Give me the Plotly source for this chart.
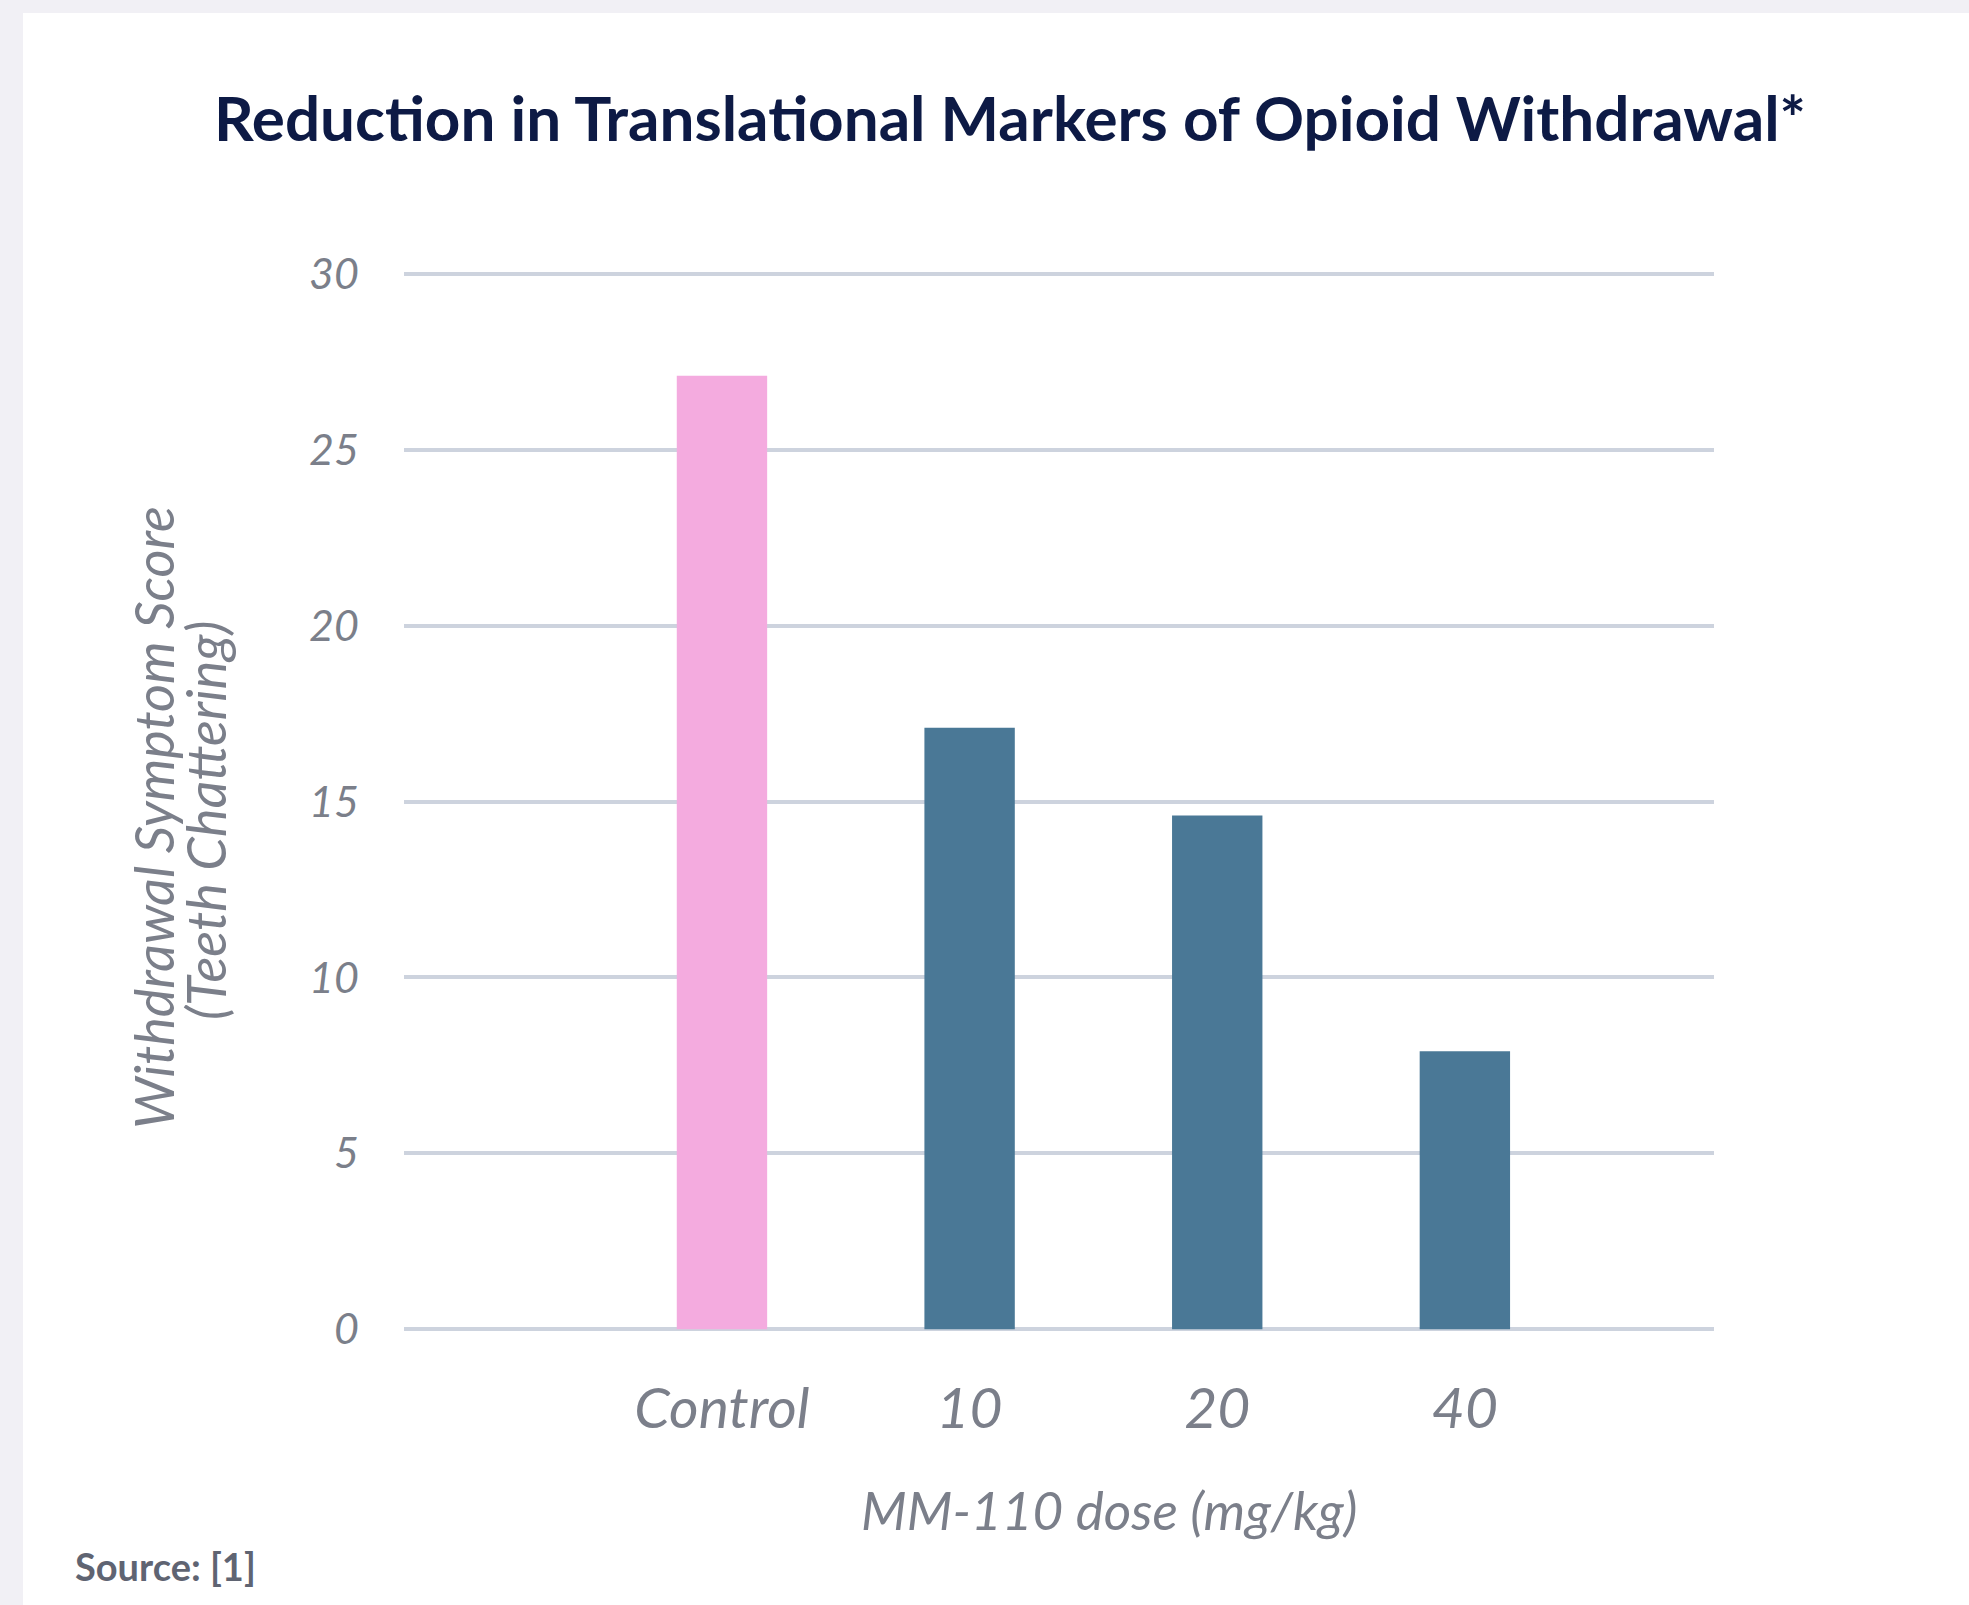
import plotly.graph_objects as go

categories = ["Control", "10", "20", "40"]
values = [27.1, 17.1, 14.6, 7.9]
bar_colors = ["#f4abdf", "#4a7896", "#4a7896", "#4a7896"]
y_ticks = [0, 5, 10, 15, 20, 25, 30]

title_text = "Reduction in Translational Markers of Opioid Withdrawal*"
y_title_1 = "Withdrawal Symptom Score"
y_title_2 = "(Teeth Chattering)"
x_title = "MM-110 dose (mg/kg)"
source_text = "Source: [1]"

W, H = 1969, 1605
L, R, T, B = 404, 1969 - 1714, 272, 1605 - 1330
pw, ph = W - L - R, H - T - B

def px(x):
    return (x - L) / pw

def py(y):
    return (H - B - y) / ph

fig = go.Figure()
fig.add_trace(go.Bar(
    x=categories, y=values, width=0.365,
    marker=dict(color=bar_colors, line=dict(width=0)),
    hoverinfo="skip", showlegend=False,
))

gray = "#7b7f8a"
fig.update_layout(
    width=W, height=H,
    margin=dict(l=L, r=R, t=T, b=B, pad=0),
    paper_bgcolor="#f1f0f5",
    plot_bgcolor="rgba(0,0,0,0)",
    font=dict(family="Lato, sans-serif", color=gray),
    xaxis=dict(
        type="category", range=[-1.284, 4.006],
        showgrid=False, zeroline=False, showline=False,
        ticks="", ticklabelstandoff=40,
        tickfont=dict(family="Lato, sans-serif", size=57, color=gray, style="italic"),
    ),
    yaxis=dict(
        range=[-0.02, 30.05], tickvals=y_ticks,
        showgrid=True, gridcolor="#cdd3de", gridwidth=4,
        zeroline=True, zerolinecolor="#cdd3de", zerolinewidth=4,
        showline=False, ticks="", ticklabelstandoff=44,
        tickfont=dict(family="Lato, sans-serif", size=43, color=gray, style="italic"),
    ),
    shapes=[dict(
        type="rect", xref="paper", yref="paper", layer="below",
        x0=px(23), x1=px(W + 5), y0=py(H + 5), y1=py(13),
        fillcolor="white", line=dict(width=0),
    )],
    annotations=[
        dict(text="<b>" + title_text + "</b>", xref="paper", yref="paper",
             x=px(1010), y=py(117), xanchor="center", yanchor="middle",
             showarrow=False, font=dict(family="Lato, sans-serif", size=62, color="#0d1a45")),
        dict(text=y_title_1, xref="paper", yref="paper", textangle=-90,
             x=px(153), y=py(818), xanchor="center", yanchor="middle",
             showarrow=False,
             font=dict(family="Lato, sans-serif", size=54, color=gray, style="italic")),
        dict(text=y_title_2, xref="paper", yref="paper", textangle=-90,
             x=px(205), y=py(821), xanchor="center", yanchor="middle",
             showarrow=False,
             font=dict(family="Lato, sans-serif", size=54, color=gray, style="italic")),
        dict(text=x_title, xref="paper", yref="paper",
             x=px(1109), y=py(1509), xanchor="center", yanchor="middle",
             showarrow=False,
             font=dict(family="Lato, sans-serif", size=53, color=gray, style="italic")),
        dict(text="<b>" + source_text + "</b>", xref="paper", yref="paper",
             x=px(73), y=py(1566), xanchor="left", yanchor="middle",
             showarrow=False, font=dict(family="Lato, sans-serif", size=38, color="#5f6472")),
    ],
)

fig.write_html("out.html", config={"displayModeBar": False},
               post_script="document.body.style.margin='0px';")
